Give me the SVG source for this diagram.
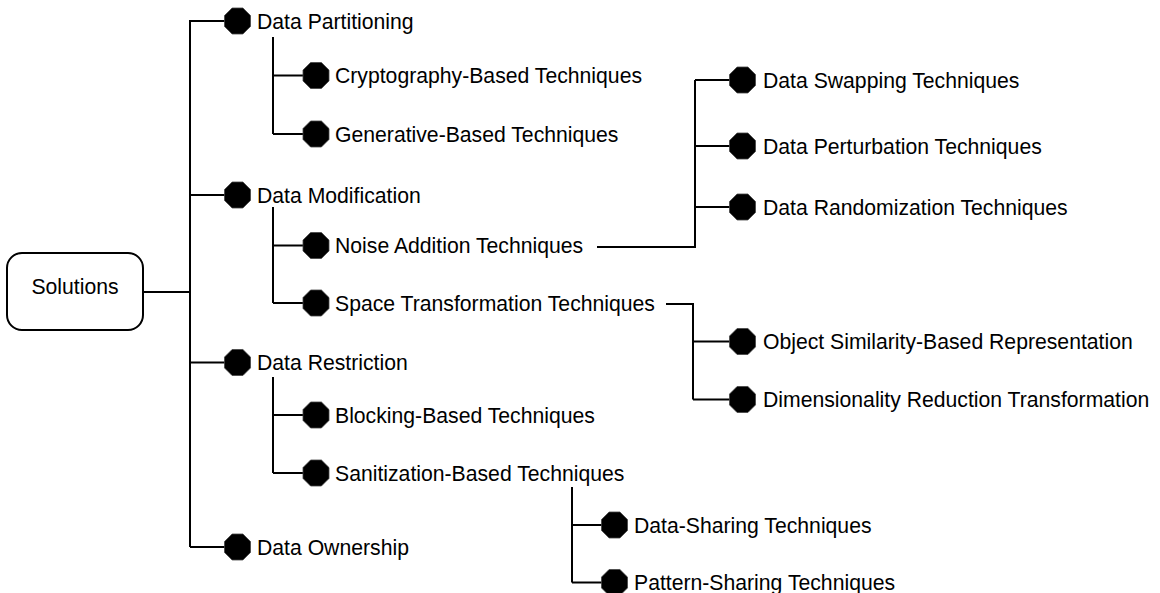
<svg xmlns="http://www.w3.org/2000/svg" xmlns:xlink="http://www.w3.org/1999/xlink" width="1160" height="593" viewBox="0 0 1160 593">
  <style>
    .lbl { font-family: "Liberation Sans", Arial, sans-serif; font-size: 21.2px; fill: #000; }
    .wire { fill: none; stroke: #000; stroke-width: 2; }
    .box { fill: #fff; stroke: #000; stroke-width: 2; }
  </style>
  <defs>
    <!-- regular octagon bullet, centred on the origin -->
    <polygon id="oct" points="-5.4,-13 5.4,-13 13,-5.4 13,5.4 5.4,13 -5.4,13 -13,5.4 -13,-5.4" fill="#000" stroke="#444" stroke-width="0.8"/>
  </defs>
  <rect width="1160" height="593" fill="#fff"/>

  <!-- connectors -->
  <g id="connectors" class="wire">
    <!-- root to trunk -->
    <line x1="143" y1="292" x2="190" y2="292"/>
    <line x1="190" y1="20" x2="190" y2="547"/>
    <line x1="190" y1="21" x2="226" y2="21"/>
    <line x1="190" y1="195" x2="226" y2="195"/>
    <line x1="190" y1="362.5" x2="226" y2="362.5"/>
    <line x1="190" y1="547" x2="226" y2="547"/>
    <!-- Data Partitioning branch -->
    <line x1="273" y1="37" x2="273" y2="134"/>
    <line x1="273" y1="75.5" x2="305" y2="75.5"/>
    <line x1="273" y1="134" x2="305" y2="134"/>
    <!-- Data Modification branch -->
    <line x1="273" y1="207" x2="273" y2="303"/>
    <line x1="273" y1="245.5" x2="305" y2="245.5"/>
    <line x1="273" y1="303" x2="305" y2="303"/>
    <!-- Data Restriction branch -->
    <line x1="273" y1="377" x2="273" y2="473"/>
    <line x1="273" y1="415" x2="305" y2="415"/>
    <line x1="273" y1="473" x2="305" y2="473"/>
    <!-- Noise Addition branch -->
    <polyline points="597,247 695,247 695,80"/>
    <line x1="695" y1="80" x2="731" y2="80"/>
    <line x1="695" y1="146" x2="731" y2="146"/>
    <line x1="695" y1="207" x2="731" y2="207"/>
    <!-- Space Transformation branch -->
    <polyline points="666,304 693,304 693,399.5"/>
    <line x1="693" y1="341.5" x2="731" y2="341.5"/>
    <line x1="693" y1="399.5" x2="731" y2="399.5"/>
    <!-- Sanitization branch -->
    <line x1="572" y1="487" x2="572" y2="582.5"/>
    <line x1="572" y1="525" x2="604" y2="525"/>
    <line x1="572" y1="582.5" x2="604" y2="582.5"/>
  </g>

  <!-- root -->
  <g id="solutions">
    <rect class="box" x="7" y="253" width="136" height="77" rx="15" ry="15"/>
    <text class="lbl" x="75" y="294" text-anchor="middle">Solutions</text>
  </g>

  <!-- first level -->
  <g id="data-partitioning">
    <use xlink:href="#oct" href="#oct" x="237.5" y="21"/>
    <text class="lbl" x="257" y="28.5">Data Partitioning</text>
  </g>
  <g id="data-modification">
    <use xlink:href="#oct" href="#oct" x="237.5" y="195"/>
    <text class="lbl" x="257" y="202.5">Data Modification</text>
  </g>
  <g id="data-restriction">
    <use xlink:href="#oct" href="#oct" x="237.5" y="362.5"/>
    <text class="lbl" x="257" y="370">Data Restriction</text>
  </g>
  <g id="data-ownership">
    <use xlink:href="#oct" href="#oct" x="237.5" y="547"/>
    <text class="lbl" x="257" y="554.5">Data Ownership</text>
  </g>

  <!-- second level -->
  <g id="cryptography-based">
    <use xlink:href="#oct" href="#oct" x="316" y="75.5"/>
    <text class="lbl" x="335" y="83">Cryptography-Based Techniques</text>
  </g>
  <g id="generative-based">
    <use xlink:href="#oct" href="#oct" x="316" y="134"/>
    <text class="lbl" x="335" y="141.5">Generative-Based Techniques</text>
  </g>
  <g id="noise-addition">
    <use xlink:href="#oct" href="#oct" x="316" y="245.5"/>
    <text class="lbl" x="335" y="253">Noise Addition Techniques</text>
  </g>
  <g id="space-transformation">
    <use xlink:href="#oct" href="#oct" x="316" y="303"/>
    <text class="lbl" x="335" y="310.5">Space Transformation Techniques</text>
  </g>
  <g id="blocking-based">
    <use xlink:href="#oct" href="#oct" x="316" y="415"/>
    <text class="lbl" x="335" y="422.5">Blocking-Based Techniques</text>
  </g>
  <g id="sanitization-based">
    <use xlink:href="#oct" href="#oct" x="316" y="473"/>
    <text class="lbl" x="335" y="480.5">Sanitization-Based Techniques</text>
  </g>

  <!-- third level -->
  <g id="data-swapping">
    <use xlink:href="#oct" href="#oct" x="742.5" y="80"/>
    <text class="lbl" x="763" y="87.5">Data Swapping Techniques</text>
  </g>
  <g id="data-perturbation">
    <use xlink:href="#oct" href="#oct" x="742.5" y="146"/>
    <text class="lbl" x="763" y="153.5">Data Perturbation Techniques</text>
  </g>
  <g id="data-randomization">
    <use xlink:href="#oct" href="#oct" x="742.5" y="207"/>
    <text class="lbl" x="763" y="214.5">Data Randomization Techniques</text>
  </g>
  <g id="object-similarity">
    <use xlink:href="#oct" href="#oct" x="742.5" y="341.5"/>
    <text class="lbl" x="763" y="349">Object Similarity-Based Representation</text>
  </g>
  <g id="dimensionality-reduction">
    <use xlink:href="#oct" href="#oct" x="742.5" y="399.5"/>
    <text class="lbl" x="763" y="407">Dimensionality Reduction Transformation</text>
  </g>
  <g id="data-sharing">
    <use xlink:href="#oct" href="#oct" x="614.5" y="525"/>
    <text class="lbl" x="634" y="532.5">Data-Sharing Techniques</text>
  </g>
  <g id="pattern-sharing">
    <use xlink:href="#oct" href="#oct" x="614.5" y="582.5"/>
    <text class="lbl" x="634" y="590">Pattern-Sharing Techniques</text>
  </g>
</svg>
